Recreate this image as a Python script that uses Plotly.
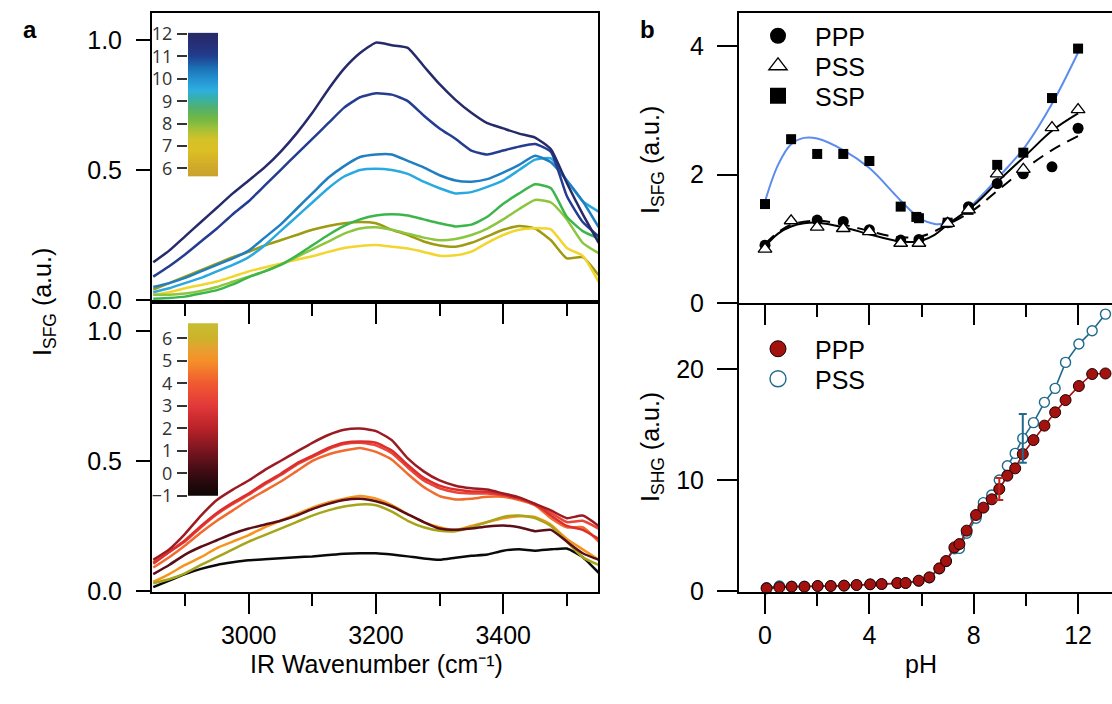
import numpy as np
import plotly.graph_objects as go

W, H = 1112, 704
def PX(x): return x / W
def PY(y): return 1 - y / H

FONT = "Liberation Sans, Arial, sans-serif"
CBFONT = "Open Sans, sans-serif"

# ---------------- Panel a data (IR wavenumber, cm-1) ----------------
wavenumber = [2850, 2875, 2900, 2925, 2950, 2975, 3000, 3025, 3050, 3075, 3100, 3125, 3150, 3175,
              3200, 3225, 3250, 3275, 3300, 3325, 3350, 3375, 3400, 3425, 3450, 3475, 3500, 3525, 3550]

# upper panel: pH 6 .. 12
sfg_ph12 = [0.145, 0.19, 0.245, 0.30, 0.355, 0.41, 0.46, 0.51, 0.57, 0.64, 0.72, 0.81, 0.89, 0.95,
            0.99, 0.98, 0.97, 0.90, 0.83, 0.77, 0.72, 0.68, 0.66, 0.64, 0.625, 0.58, 0.45, 0.33, 0.22]
sfg_ph11 = [0.09, 0.13, 0.175, 0.225, 0.275, 0.33, 0.38, 0.44, 0.50, 0.56, 0.62, 0.68, 0.74, 0.78,
            0.795, 0.79, 0.765, 0.71, 0.66, 0.62, 0.575, 0.56, 0.575, 0.59, 0.60, 0.57, 0.40, 0.30, 0.245]
sfg_ph10 = [0.05, 0.065, 0.085, 0.11, 0.135, 0.16, 0.19, 0.24, 0.29, 0.35, 0.41, 0.47, 0.515, 0.55,
            0.56, 0.56, 0.535, 0.51, 0.48, 0.46, 0.455, 0.465, 0.49, 0.52, 0.555, 0.53, 0.46, 0.38, 0.28]
sfg_ph9 = [0.03, 0.045, 0.065, 0.085, 0.11, 0.135, 0.165, 0.21, 0.265, 0.32, 0.375, 0.43, 0.475, 0.50,
           0.505, 0.50, 0.485, 0.455, 0.43, 0.41, 0.415, 0.435, 0.46, 0.50, 0.54, 0.545, 0.46, 0.38, 0.34]
sfg_ph8b = [0.005, 0.008, 0.013, 0.025, 0.038, 0.06, 0.088, 0.11, 0.135, 0.17, 0.21, 0.25, 0.285, 0.31,
            0.325, 0.33, 0.325, 0.31, 0.295, 0.283, 0.29, 0.32, 0.37, 0.41, 0.445, 0.43, 0.32, 0.265, 0.237]
sfg_ph8a = [0.02, 0.02, 0.025, 0.035, 0.05, 0.07, 0.09, 0.11, 0.135, 0.165, 0.195, 0.225, 0.255, 0.275,
            0.28, 0.27, 0.255, 0.24, 0.23, 0.235, 0.25, 0.275, 0.31, 0.35, 0.385, 0.375, 0.31, 0.22, 0.18]
sfg_ph7 = [0.02, 0.03, 0.045, 0.058, 0.071, 0.09, 0.11, 0.125, 0.14, 0.155, 0.168, 0.185, 0.20, 0.208,
           0.212, 0.205, 0.198, 0.185, 0.17, 0.172, 0.186, 0.22, 0.25, 0.27, 0.276, 0.272, 0.20, 0.17, 0.07]
sfg_ph6 = [0.04, 0.065, 0.09, 0.115, 0.14, 0.165, 0.185, 0.21, 0.23, 0.25, 0.27, 0.285, 0.295, 0.30,
           0.295, 0.27, 0.25, 0.225, 0.21, 0.205, 0.22, 0.245, 0.27, 0.285, 0.275, 0.23, 0.16, 0.165, 0.095]

# lower panel: pH -1 .. 6
sfg_phm1 = [0.015, 0.04, 0.065, 0.085, 0.10, 0.11, 0.118, 0.122, 0.126, 0.13, 0.133, 0.138, 0.143, 0.145,
            0.145, 0.14, 0.133, 0.125, 0.12, 0.128, 0.135, 0.14, 0.155, 0.16, 0.155, 0.16, 0.163, 0.13, 0.07]
sfg_ph0 = [0.065, 0.10, 0.14, 0.17, 0.195, 0.22, 0.24, 0.255, 0.27, 0.29, 0.315, 0.335, 0.35, 0.355,
           0.345, 0.325, 0.295, 0.265, 0.24, 0.235, 0.24, 0.248, 0.252, 0.245, 0.23, 0.235, 0.19, 0.145, 0.12]
sfg_ph1 = [0.12, 0.16, 0.22, 0.29, 0.35, 0.39, 0.425, 0.465, 0.50, 0.535, 0.57, 0.60, 0.62, 0.625,
           0.615, 0.58, 0.51, 0.46, 0.425, 0.405, 0.395, 0.39, 0.375, 0.36, 0.335, 0.31, 0.28, 0.29, 0.25]
sfg_ph2 = [0.105, 0.15, 0.195, 0.25, 0.30, 0.34, 0.375, 0.415, 0.45, 0.49, 0.52, 0.55, 0.57, 0.575,
           0.57, 0.54, 0.485, 0.435, 0.405, 0.39, 0.383, 0.382, 0.37, 0.355, 0.335, 0.29, 0.25, 0.235, 0.20]
sfg_ph3 = [0.11, 0.15, 0.19, 0.245, 0.295, 0.335, 0.37, 0.41, 0.445, 0.485, 0.515, 0.545, 0.565, 0.57,
           0.56, 0.53, 0.475, 0.425, 0.395, 0.38, 0.375, 0.375, 0.368, 0.355, 0.33, 0.30, 0.265, 0.27, 0.24]
sfg_ph4 = [0.09, 0.13, 0.175, 0.225, 0.27, 0.31, 0.35, 0.385, 0.42, 0.46, 0.50, 0.525, 0.54, 0.55,
           0.535, 0.505, 0.45, 0.40, 0.365, 0.352, 0.355, 0.362, 0.362, 0.35, 0.33, 0.28, 0.245, 0.245, 0.19]
sfg_ph5 = [0.035, 0.065, 0.10, 0.13, 0.165, 0.19, 0.215, 0.245, 0.27, 0.295, 0.32, 0.34, 0.355, 0.365,
           0.355, 0.33, 0.295, 0.265, 0.245, 0.235, 0.25, 0.265, 0.28, 0.287, 0.285, 0.255, 0.20, 0.16, 0.12]
sfg_ph6_low = [0.03, 0.045, 0.068, 0.10, 0.13, 0.16, 0.19, 0.215, 0.24, 0.265, 0.29, 0.31, 0.325, 0.333,
               0.33, 0.305, 0.27, 0.245, 0.232, 0.23, 0.245, 0.265, 0.285, 0.29, 0.28, 0.25, 0.19, 0.13, 0.10]

upper_series = [sfg_ph6, sfg_ph7, sfg_ph8a, sfg_ph8b, sfg_ph9, sfg_ph10, sfg_ph11, sfg_ph12]
upper_colors = ["#9e9a12", "#f2d52e", "#8cc63f", "#3cb64b", "#2aa9e0", "#1f7fc1", "#243c91", "#272a6a"]
lower_series = [sfg_phm1, sfg_ph5, sfg_ph6_low, sfg_ph0, sfg_ph4, sfg_ph3, sfg_ph2, sfg_ph1]
lower_colors = ["#0a0a0a", "#f7941d", "#a5a51a", "#5c0e18", "#f16a2e", "#ea4538", "#dd2e2e", "#9b1b22"]

# colour-bar definitions (pH)
cbar_top_ticks = [6, 7, 8, 9, 10, 11, 12]
cbar_top_range = [5.63, 12.06]
cbar_top_scale = [[0.0, "#c9a22c"], [0.058, "#cfa82a"], [0.182, "#dcc024"], [0.26, "#d2c228"],
                  [0.337, "#9cc03a"], [0.40, "#72b844"], [0.477, "#52b070"], [0.54, "#38b0a8"],
                  [0.60, "#2eaee0"], [0.68, "#2490d0"], [0.757, "#1b6fb3"], [0.835, "#203f90"],
                  [0.913, "#262f78"], [1.0, "#262a66"]]
cbar_bot_ticks = [-1, 0, 1, 2, 3, 4, 5, 6]
cbar_bot_range = [-1.0, 6.67]
cbar_bot_scale = [[0.0, "#0d0505"], [0.13, "#3a0c12"], [0.261, "#7a1520"], [0.391, "#b82228"],
                  [0.522, "#e3393a"], [0.652, "#f05a30"], [0.782, "#f59028"], [0.848, "#e8a030"],
                  [0.913, "#cdb32a"], [1.0, "#c8be32"]]

# ---------------- Panel b data ----------------
sfg_ssp_ph = [0.0, 1.0, 2.0, 3.0, 4.0, 5.2, 5.8, 5.9, 7.0, 7.8, 8.9, 9.9, 11.0, 12.0]
sfg_ssp = [1.54, 2.55, 2.32, 2.32, 2.21, 1.50, 1.34, 1.32, 1.25, 1.45, 2.15, 2.34, 3.19, 3.96]
sfg_ppp_ph = [0.0, 2.0, 3.0, 4.0, 5.2, 5.9, 7.0, 7.8, 8.9, 9.9, 11.0, 12.0]
sfg_ppp = [0.90, 1.29, 1.27, 1.14, 0.98, 0.99, 1.25, 1.50, 1.86, 2.01, 2.12, 2.72]
sfg_pss_ph = [0.0, 1.0, 2.0, 3.0, 4.0, 5.2, 5.9, 7.0, 7.8, 8.9, 9.9, 11.0, 12.0]
sfg_pss = [0.84, 1.28, 1.18, 1.16, 1.11, 0.93, 0.93, 1.24, 1.45, 2.01, 2.08, 2.73, 3.01]

fit_ssp_ph = [0.0, 0.5, 1.0, 1.5, 2.0, 3.0, 4.0, 5.0, 5.5, 6.0, 6.5, 7.0, 7.5, 8.0, 9.0, 10.0, 11.0, 12.0]
fit_ssp = [1.58, 2.15, 2.47, 2.57, 2.56, 2.38, 2.10, 1.68, 1.47, 1.30, 1.23, 1.25, 1.36, 1.55, 1.98, 2.45, 3.10, 3.90]
fit_pss_ph = [0.0, 0.5, 1.0, 1.5, 2.0, 3.0, 4.0, 5.0, 5.5, 6.0, 6.5, 7.0, 8.0, 9.0, 10.0, 11.0, 12.0]
fit_pss = [0.88, 1.08, 1.19, 1.24, 1.25, 1.18, 1.07, 0.97, 0.95, 0.97, 1.06, 1.22, 1.52, 1.92, 2.30, 2.68, 2.95]
fit_ppp_ph = [0.0, 0.5, 1.0, 2.0, 3.0, 4.0, 5.0, 6.0, 7.0, 8.0, 9.0, 10.0, 11.0, 12.0]
fit_ppp = [0.92, 1.10, 1.22, 1.28, 1.22, 1.12, 1.03, 1.04, 1.22, 1.45, 1.78, 2.10, 2.38, 2.60]

shg_ph = [0.06, 0.55, 1.02, 1.51, 2.02, 2.52, 3.03, 3.51, 4.03, 4.47, 5.07, 5.39, 5.89, 6.30, 6.68, 6.94,
          7.26, 7.45, 7.73, 8.09, 8.37, 8.69, 8.98, 9.29, 9.59, 9.88, 10.29, 10.71, 11.12, 11.52, 12.03,
          12.54, 13.05]
shg_ppp = [0.24, 0.33, 0.39, 0.39, 0.45, 0.45, 0.48, 0.54, 0.60, 0.63, 0.72, 0.72, 0.93, 1.23, 2.04, 2.70,
           3.93, 4.23, 5.44, 6.85, 7.51, 8.26, 9.19, 10.39, 11.05, 12.34, 13.60, 14.90, 16.10, 17.20, 18.47,
           19.55, 19.60]
shg_pss = [0.30, 0.45, 0.40, 0.40, 0.45, 0.45, 0.50, 0.55, 0.60, 0.62, 0.70, 0.72, 0.90, 1.20, 2.00, 2.65,
           3.80, 3.84, 5.20, 6.55, 7.96, 8.65, 10.0, 11.29, 12.40, 13.75, 15.17, 17.00, 18.26, 20.60, 22.25,
           23.45, 24.95]
shg_err_ph = [8.98, 9.88]
shg_err_val = [9.19, 13.75]
shg_err = [1.0, 2.2]

# ---------------- Figure ----------------
fig = go.Figure()

for ys, c in zip(upper_series, upper_colors):
    fig.add_trace(go.Scatter(x=wavenumber, y=ys, mode="lines", line=dict(color=c, width=2.5, shape="spline", smoothing=0.5),
                             xaxis="x2", yaxis="y2", showlegend=False, hoverinfo="skip"))
for ys, c in zip(lower_series, lower_colors):
    fig.add_trace(go.Scatter(x=wavenumber, y=ys, mode="lines", line=dict(color=c, width=2.5, shape="spline", smoothing=0.5),
                             xaxis="x", yaxis="y", showlegend=False, hoverinfo="skip"))

# colour bars as heatmaps
top_levels = np.linspace(cbar_top_range[0], cbar_top_range[1], 300)
fig.add_trace(go.Heatmap(z=[[v] for v in top_levels], y=top_levels, x=[0], colorscale=cbar_top_scale,
                         zmin=cbar_top_range[0], zmax=cbar_top_range[1], showscale=False,
                         xaxis="x5", yaxis="y5", hoverinfo="skip"))
bot_levels = np.linspace(cbar_bot_range[0], cbar_bot_range[1], 300)
fig.add_trace(go.Heatmap(z=[[v] for v in bot_levels], y=bot_levels, x=[0], colorscale=cbar_bot_scale,
                         zmin=cbar_bot_range[0], zmax=cbar_bot_range[1], showscale=False,
                         xaxis="x6", yaxis="y6", hoverinfo="skip"))

# panel b top: SFG
fig.add_trace(go.Scatter(x=fit_ssp_ph, y=fit_ssp, mode="lines", line=dict(color="#5b8def", width=2, shape="spline"),
                         xaxis="x4", yaxis="y4", showlegend=False, hoverinfo="skip"))
fig.add_trace(go.Scatter(x=fit_ppp_ph, y=fit_ppp, mode="lines", line=dict(color="black", width=2, dash="12px,8px", shape="spline"),
                         xaxis="x4", yaxis="y4", showlegend=False, hoverinfo="skip"))
fig.add_trace(go.Scatter(x=fit_pss_ph, y=fit_pss, mode="lines", line=dict(color="black", width=2, shape="spline"),
                         xaxis="x4", yaxis="y4", showlegend=False, hoverinfo="skip"))
fig.add_trace(go.Scatter(x=sfg_ssp_ph, y=sfg_ssp, mode="markers", marker=dict(symbol="square", size=10, color="black"),
                         xaxis="x4", yaxis="y4", showlegend=False))
fig.add_trace(go.Scatter(x=sfg_ppp_ph, y=sfg_ppp, mode="markers", marker=dict(symbol="circle", size=11, color="black"),
                         xaxis="x4", yaxis="y4", showlegend=False))
fig.add_trace(go.Scatter(x=sfg_pss_ph, y=sfg_pss, mode="markers",
                         marker=dict(symbol="triangle-up", size=12, color="white", line=dict(color="black", width=1.3)),
                         xaxis="x4", yaxis="y4", showlegend=False))

# panel b bottom: SHG
PSS_C = "#1f6a8c"
PPP_C = "#a3120f"
fig.add_trace(go.Scatter(x=shg_ph, y=shg_pss, mode="lines+markers", line=dict(color=PSS_C, width=1.6),
                         marker=dict(symbol="circle", size=10, color="white", line=dict(color=PSS_C, width=1.4)),
                         xaxis="x3", yaxis="y3", showlegend=False, cliponaxis=False))
fig.add_trace(go.Scatter(x=shg_ph, y=shg_ppp, mode="lines+markers", line=dict(color=PPP_C, width=1.6),
                         marker=dict(symbol="circle", size=11, color=PPP_C, line=dict(color="#1a0000", width=1)),
                         xaxis="x3", yaxis="y3", showlegend=False, cliponaxis=False))
fig.add_trace(go.Scatter(x=[shg_err_ph[0]], y=[shg_err_val[0]], mode="markers", marker=dict(size=1, color=PPP_C),
                         error_y=dict(type="data", array=[shg_err[0]], color="#c0281e", thickness=2, width=4),
                         xaxis="x3", yaxis="y3", showlegend=False, hoverinfo="skip"))
fig.add_trace(go.Scatter(x=[shg_err_ph[1]], y=[shg_err_val[1]], mode="markers", marker=dict(size=1, color=PSS_C),
                         error_y=dict(type="data", array=[shg_err[1]], color=PSS_C, thickness=2, width=4),
                         xaxis="x3", yaxis="y3", showlegend=False, hoverinfo="skip"))

# legend entries: one legend per entry so that their spacing follows the reference
legend_items = [
    ("PPP", dict(symbol="circle", size=16, color="black"), "x4", "y4", 36),
    ("PSS", dict(symbol="triangle-up", size=16, color="white", line=dict(color="black", width=1.3)), "x4", "y4", 66),
    ("SSP", dict(symbol="square", size=16, color="black"), "x4", "y4", 96),
    ("PPP", dict(symbol="circle", size=16, color=PPP_C, line=dict(color="#1a0000", width=1)), "x3", "y3", 349),
    ("PSS", dict(symbol="circle", size=16, color="white", line=dict(color=PSS_C, width=1.4)), "x3", "y3", 379),
]
LEGF = dict(family=FONT, size=25, color="black")
legend_layout = {}
for i, (name, mk, xa, ya, ypos) in enumerate(legend_items):
    lname = "legend" if i == 0 else f"legend{i + 1}"
    fig.add_trace(go.Scatter(x=[None], y=[None], mode="markers", name=name, marker=mk,
                             xaxis=xa, yaxis=ya, legend=lname))
    legend_layout[lname] = dict(x=PX(741), y=PY(ypos), xanchor="left", yanchor="middle", font=LEGF,
                                itemwidth=64, bgcolor="rgba(0,0,0,0)", borderwidth=0)
fig.update_layout(**legend_layout)

TICKF = dict(family=FONT, size=25, color="black")
ax_common = dict(showline=True, linecolor="black", linewidth=2, ticks="outside", tickcolor="black",
                 tickwidth=2, showgrid=False, zeroline=False, tickfont=TICKF, automargin=False)

# panel a axes
xa_dom = [PX(152), PX(598)]
minor_a = dict(dtick=100, tick0=2900, ticklen=12, tickwidth=2, tickcolor="black", ticks="outside")
fig.update_layout(
    xaxis=dict(domain=xa_dom, anchor="y", range=[2848, 3549], tickvals=[3000, 3200, 3400], ticklen=20,
               minor=minor_a, mirror=True, **ax_common),
    yaxis=dict(domain=[PY(592), PY(302)], anchor="x", range=[-0.004, 1.1115], tickvals=[0, 0.5, 1.0],
               ticktext=["0.0", "0.5", "1.0"], ticklen=14, ticklabelstandoff=9, mirror=True, **ax_common),
    xaxis2=dict(domain=xa_dom, anchor="y2", matches="x", range=[2848, 3549], tickvals=[3000, 3200, 3400], ticklen=20,
                minor=minor_a, showticklabels=False, mirror=True, **ax_common),
    yaxis2=dict(domain=[PY(302), PY(13)], anchor="x2", range=[-0.0077, 1.104], tickvals=[0, 0.5, 1.0],
                ticktext=["0.0", "0.5", "1.0"], ticklen=14, ticklabelstandoff=9, mirror=True, **ax_common),
)
# panel b axes
xb_dom = [PX(739), 1.0]
minor_b = dict(dtick=2, tick0=0, ticklen=12, tickwidth=2, tickcolor="black", ticks="outside")
fig.update_layout(
    xaxis3=dict(domain=xb_dom, anchor="y3", range=[-0.997, 13.30], tickvals=[0, 4, 8, 12], ticklen=20,
                minor=minor_b, **ax_common),
    yaxis3=dict(domain=[PY(592), PY(303)], anchor="x3", range=[-0.09, 25.95], tickvals=[0, 10, 20], ticklen=20,
                ticklabelstandoff=8, **ax_common),
    xaxis4=dict(domain=xb_dom, anchor="y4", range=[-0.997, 13.30], tickvals=[0, 4, 8, 12], ticklen=20,
                minor=minor_b, showticklabels=False, mirror=True, **ax_common),
    yaxis4=dict(domain=[PY(303), PY(13)], anchor="x4", range=[0, 4.514], tickvals=[0, 2, 4], ticklen=20,
                ticklabelstandoff=8, **ax_common),
)
# colour bar axes
CBF = dict(family=CBFONT, size=18, color="#333333")
cb_common = dict(ticks="outside", ticklen=10, tickwidth=1.5, tickcolor="#333333", showline=False,
                 showgrid=False, zeroline=False, tickfont=CBF, ticklabelstandoff=1, automargin=False)
fig.update_layout(
    xaxis5=dict(domain=[PX(188), PX(218)], anchor="y5", visible=False, range=[-0.5, 0.5], automargin=False),
    yaxis5=dict(domain=[PY(176.7), PY(32.7)], anchor="x5", range=cbar_top_range, tickvals=cbar_top_ticks, **cb_common),
    xaxis6=dict(domain=[PX(188), PX(218)], anchor="y6", visible=False, range=[-0.5, 0.5], automargin=False),
    yaxis6=dict(domain=[PY(495.7), PY(323.3)], anchor="x6", range=cbar_bot_range, tickvals=cbar_bot_ticks, **cb_common),
)

TITF = dict(family=FONT, size=25, color="black")
annotations = [
    dict(text="<b>a</b>", x=PX(30), y=PY(30), font=dict(family=FONT, size=24, color="black")),
    dict(text="<b>b</b>", x=PX(647), y=PY(30), font=dict(family=FONT, size=24, color="black")),
    dict(text="I<sub>SFG</sub> (a.u.)", x=PX(44), y=PY(302), textangle=-90, font=TITF),
    dict(text="I<sub>SFG</sub> (a.u.)", x=PX(652), y=PY(160), textangle=-90, font=TITF),
    dict(text="I<sub>SHG</sub> (a.u.)", x=PX(652), y=PY(447), textangle=-90, font=TITF),
    dict(text="IR Wavenumber (cm\u207b\u00b9)", x=PX(376), y=PY(664), font=TITF),
    dict(text="pH", x=PX(921), y=PY(664), font=TITF),
]
for a in annotations:
    a.update(xref="paper", yref="paper", xanchor="center", yanchor="middle", showarrow=False)

fig.update_layout(width=W, height=H, margin=dict(l=0, r=0, t=0, b=0, pad=0, autoexpand=False),
                  paper_bgcolor="white", plot_bgcolor="white", annotations=annotations,
                  font=dict(family=FONT, color="black"))

# remove the default page margin so that the 1112x704 figure fills the window exactly
fig.write_html("out.html", config={"displayModeBar": False},
               post_script="document.body.style.margin='0px';document.body.style.overflow='hidden';")
